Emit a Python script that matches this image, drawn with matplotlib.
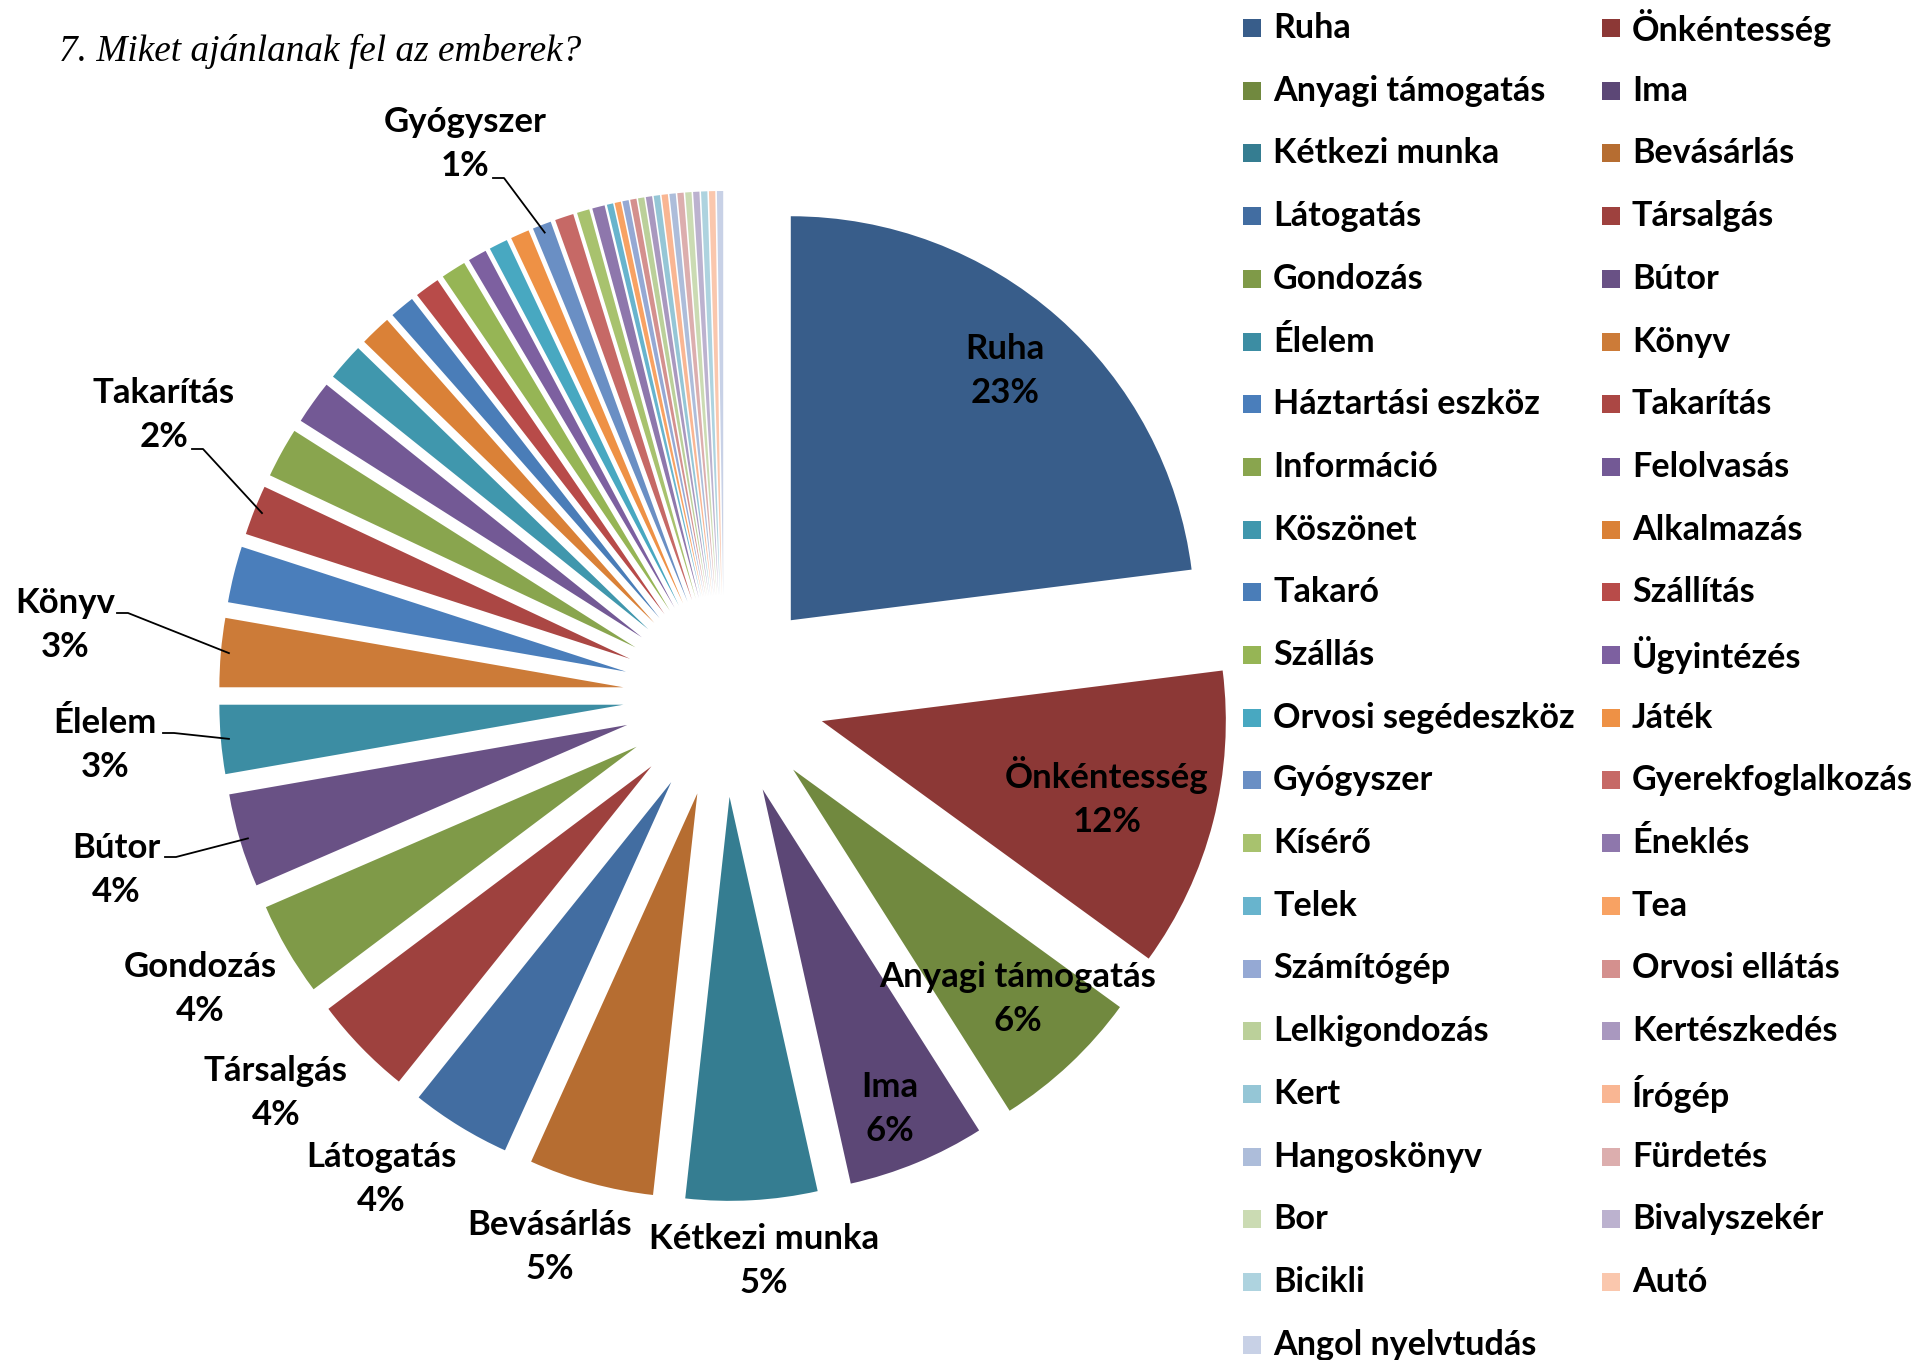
import numpy as np
import matplotlib.pyplot as plt
from matplotlib.patches import Rectangle

# categories in chart order (clockwise from 12 o'clock), counts
categories = ['Ruha', 'Önkéntesség', 'Anyagi támogatás', 'Ima', 'Kétkezi munka',
              'Bevásárlás', 'Látogatás', 'Társalgás', 'Gondozás', 'Bútor',
              'Élelem', 'Könyv', 'Háztartási eszköz', 'Takarítás', 'Információ',
              'Felolvasás', 'Köszönet', 'Alkalmazás', 'Takaró', 'Szállítás',
              'Szállás', 'Ügyintézés', 'Orvosi segédeszköz', 'Játék', 'Gyógyszer',
              'Gyerekfoglalkozás', 'Kísérő', 'Éneklés', 'Telek', 'Tea',
              'Számítógép', 'Orvosi ellátás', 'Lelkigondozás', 'Kertészkedés', 'Kert',
              'Írógép', 'Hangoskönyv', 'Fürdetés', 'Bor', 'Bivalyszekér',
              'Bicikli', 'Autó', 'Angol nyelvtudás']
counts = [92, 48, 24, 22, 21,
          20, 16, 16, 15, 15,
          11, 11, 9, 8, 8,
          7, 6, 5, 4, 4,
          4, 3, 3, 3, 3,
          3, 2, 2, 1, 1,
          1, 1, 1, 1, 1,
          1, 1, 1, 1, 1,
          1, 1, 1]
colors = ['#385D8A', '#8C3836', '#71893F', '#5C4776', '#357D91',
          '#B66D31', '#426DA1', '#9E413E', '#7F9A48', '#695185',
          '#3C8DA3', '#CC7B38', '#4A7EBB', '#AB4744', '#89A54E',
          '#735995', '#4097AD', '#DA8137', '#4A7DB8', '#B84B49',
          '#96B555', '#7D60A0', '#48A8C1', '#EE9145', '#6A8FC4',
          '#C66966', '#A8C26E', '#8E77AC', '#68B4CD', '#F8A263',
          '#95A9D4', '#D4908E', '#BBD09A', '#A998BF', '#95C6D6',
          '#F9B693', '#ADBDDA', '#DCAEAE', '#CBDBB3', '#BCB2CF',
          '#AED3DF', '#FAC7AD', '#C8D1E6']

# labelled slices: block centre of the label (pixels) and leader line start (pixels)
label_pos = {
    'Ruha': (1005, 371), 'Önkéntesség': (1107, 797), 'Anyagi támogatás': (1018, 999),
    'Ima': (890, 1109), 'Kétkezi munka': (764, 1261), 'Bevásárlás': (550, 1247),
    'Látogatás': (381, 1179), 'Társalgás': (276, 1093), 'Gondozás': (200, 989),
    'Bútor': (116, 870), 'Élelem': (105, 745), 'Könyv': (65, 625),
    'Takarítás': (164, 415), 'Gyógyszer': (465, 144),
}
leaders = {
    'Bútor': [(165, 857), (176, 857)],
    'Élelem': [(163, 733), (174, 733)],
    'Könyv': [(117, 613), (128, 613)],
    'Takarítás': [(192, 449), (203, 449)],
    'Gyógyszer': [(493, 178), (504, 178)],
}

W, H = 1920, 1360
CX, CY, R = 724, 696, 404   # pie centre / radius in pixels
FONT = 'Lato'


def px(x, y):
    return ((x - CX) / R, (CY - y) / R)


fig = plt.figure(figsize=(W / 100, H / 100), dpi=100)
ax = fig.add_axes([0, 0, 1, 1])

wedges, _ = ax.pie(counts, colors=colors, startangle=90, counterclock=False,
                   explode=[0.25] * len(counts), wedgeprops=dict(linewidth=0))
ax.set_xlim(-CX / R, (W - CX) / R)
ax.set_ylim(-(H - CY) / R, CY / R)
ax.axis('off')

total = sum(counts)
for i, name in enumerate(categories):
    if name not in label_pos:
        continue
    pct = int(100 * counts[i] / total + 0.5)
    x, y = px(*label_pos[name])
    ax.text(x, y, f'{name}\n{pct}%', ha='center', va='center', fontsize=25,
            fontweight='bold', family=FONT, linespacing=1.45)
    if name in leaders:
        w = wedges[i]
        mid = np.radians((w.theta1 + w.theta2) / 2)
        end = (w.center[0] + 0.98 * np.cos(mid), w.center[1] + 0.98 * np.sin(mid))
        pts = [px(*p) for p in leaders[name]] + [end]
        ax.plot([p[0] for p in pts], [p[1] for p in pts], color='black', lw=1.3)

# legend, two columns filled row by row
for i, name in enumerate(categories):
    col, row = i % 2, i // 2
    x0 = 1243 if col == 0 else 1602
    yc = 28 + row * 62.7
    fig.add_artist(Rectangle((x0 / W, 1 - (yc + 9) / H), 18 / W, 18 / H,
                             transform=fig.transFigure, color=colors[i], lw=0))
    fig.text((x0 + 30) / W, 1 - yc / H, name, ha='left', va='center',
             fontsize=24.6, fontweight='bold', family=FONT)

fig.text(59 / W, 1 - 51 / H, '7. Miket ajánlanak fel az emberek?', ha='left', va='center',
         fontsize=26.8, style='italic', family='Liberation Serif')

fig.savefig('out.png', dpi=100)
